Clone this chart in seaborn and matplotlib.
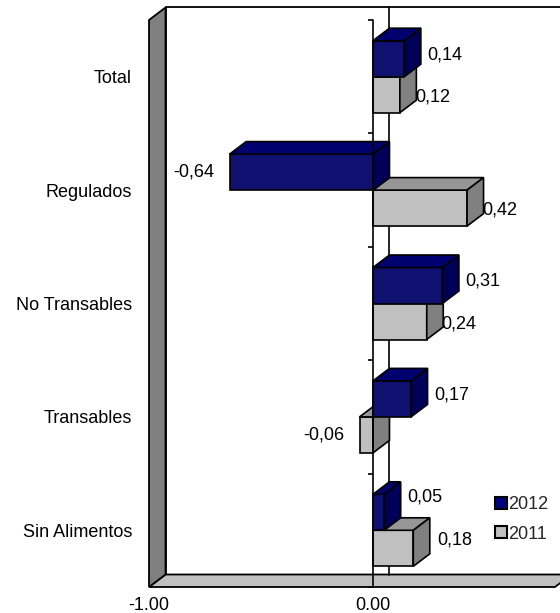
import pandas as pd
import numpy as np
import seaborn as sns
import matplotlib.pyplot as plt
from matplotlib.patches import Polygon, Patch
from matplotlib.transforms import offset_copy

# -------------------Data --------------------

categorias = ["Total", "Regulados", "No Transables", "Transables", "Sin Alimentos"]
valores_2012 = [0.14, -0.64, 0.31, 0.17, 0.05]
valores_2011 = [0.12, 0.42, 0.24, -0.06, 0.18]
anios = ["2012", "2011"]
x_ticks = [-1.0, 0.0]

colores = {"2012": "#000080", "2011": "#c0c0c0"}
colores_top = {"2012": "#00006e", "2011": "#969696"}
colores_side = {"2012": "#000058", "2011": "#808080"}

df = pd.DataFrame({
    "categoria": categorias * 2,
    "valor": valores_2012 + valores_2011,
    "anio": ["2012"] * len(categorias) + ["2011"] * len(categorias),
})

# -------------------Figure --------------------

sns.set_style("white")
plt.rcParams["font.family"] = ["Liberation Sans", "DejaVu Sans"]

W, H = 560, 613
fig = plt.figure(figsize=(W / 100, H / 100), dpi=100)
ax = fig.add_axes([149 / W, (H - 587) / H, (W - 149) / W, (587 - 20) / H])

sns.barplot(data=df, x="valor", y="categoria", hue="anio", hue_order=anios,
            palette=colores, width=0.635, edgecolor="black", linewidth=1.2,
            orient="h", legend=False, ax=ax)

ax.set_xlim(-1.0, 0.835)
ax.set_ylim(len(categorias) - 0.5, -0.5)
ax.patch.set_visible(False)
for s in ax.spines.values():
    s.set_visible(False)

# pixel depth of the 3d effect converted to data units
fig.canvas.draw()
p0 = ax.transData.transform((0, 0))
px_x = ax.transData.transform((1, 0))[0] - p0[0]
px_y = p0[1] - ax.transData.transform((0, 1))[1]
ddx = 16.5 / px_x
ddy = -12.5 / px_y

x0, x1 = -1.0, 0.8125
y0, y1 = -0.5, len(categorias) - 0.5

# back wall, floor, left wall
ax.add_patch(Polygon([(x0 + ddx, y0 + ddy), (x1 + ddx + 0.3, y0 + ddy),
                      (x1 + ddx + 0.3, y1 + ddy), (x0 + ddx, y1 + ddy)],
                     closed=True, facecolor="white", edgecolor="black", lw=1.3,
                     zorder=0.1, clip_on=False))
ax.add_patch(Polygon([(x0, y1), (x0 + ddx, y1 + ddy), (x1 + ddx, y1 + ddy), (x1, y1)],
                     closed=True, facecolor="#c0c0c0", edgecolor="black", lw=1.3,
                     zorder=0.2, clip_on=False))
ax.add_patch(Polygon([(x0, y0), (x0 + ddx, y0 + ddy), (x0 + ddx, y1 + ddy), (x0, y1)],
                     closed=True, facecolor="#808080", edgecolor="black", lw=1.3,
                     zorder=0.3, clip_on=False))

# zero line on the back wall
ax.plot([ddx, ddx], [y0 + ddy, y1 + ddy], color="black", lw=1.2, zorder=0.5, clip_on=False)

# 3d faces for every bar
for k, anio in enumerate(anios):
    z = 2 + k * -0.5 + 0.5  # 2012 on top of 2011
    for bar in ax.containers[k]:
        bx, by = bar.get_x(), bar.get_y()
        bw, bh = bar.get_width(), bar.get_height()
        left, right = min(bx, bx + bw), max(bx, bx + bw)
        top, bottom = min(by, by + bh), max(by, by + bh)
        bar.set_zorder(z)
        ax.add_patch(Polygon([(left, top), (right, top), (right + ddx, top + ddy),
                              (left + ddx, top + ddy)], closed=True,
                             facecolor=colores_top[anio], edgecolor="black", lw=1.2,
                             zorder=z, clip_on=False))
        ax.add_patch(Polygon([(right, top), (right + ddx, top + ddy),
                              (right + ddx, bottom + ddy), (right, bottom)], closed=True,
                             facecolor=colores_side[anio], edgecolor="black", lw=1.2,
                             zorder=z, clip_on=False))

# front category axis at zero with ticks at the boundaries
ax.plot([0, 0], [y0, y1], color="black", lw=1.2, zorder=4, clip_on=False)
bordes = np.arange(len(categorias) + 1) - 0.5
ax.hlines(bordes, -5 / px_x, 0, color="black", lw=1.2, zorder=4, clip_on=False)

# value labels
nudges = {("2012", 4): (0, -11), ("2011", 4): (9, -10)}
for k, anio in enumerate(anios):
    vals = valores_2012 if anio == "2012" else valores_2011
    for i, (bar, v) in enumerate(zip(ax.containers[k], vals)):
        yc = bar.get_y() + bar.get_height() / 2
        if v >= 0:
            dx, dy = (23, 4) if anio == "2012" else (15, -2)
            ha = "left"
        else:
            dx, dy = (-15, 0)
            ha = "right"
        nx, ny = nudges.get((anio, i), (0, 0))
        tr = offset_copy(ax.transData, fig=fig, x=dx + nx, y=dy - ny, units="dots")
        ax.text(v, yc, f"{v:.2f}".replace(".", ","), transform=tr, ha=ha, va="center",
                fontsize=13, color="black", zorder=6, clip_on=False)

# axes ticks and labels
ax.set_xticks(x_ticks)
ax.set_xticklabels([f"{t:.2f}" for t in x_ticks])
ax.tick_params(axis="x", length=3, width=1, color="black", pad=4.5, labelsize=13, labelcolor="black")
ax.tick_params(axis="y", length=0, pad=12.2, labelsize=13, labelcolor="black")
ax.set_xlabel("")
ax.set_ylabel("")

handles = [Patch(facecolor=colores[a], edgecolor="black", lw=1.5, label=a) for a in anios]
fig.legend(handles=handles, loc="upper left", bbox_to_anchor=(495 / W, 1 - 496 / H),
           frameon=False, fontsize=13, handlelength=0.65, handleheight=0.65,
           handletextpad=0.1, labelspacing=0.7, borderpad=0, borderaxespad=0)

plt.savefig("out.png", dpi=100)
